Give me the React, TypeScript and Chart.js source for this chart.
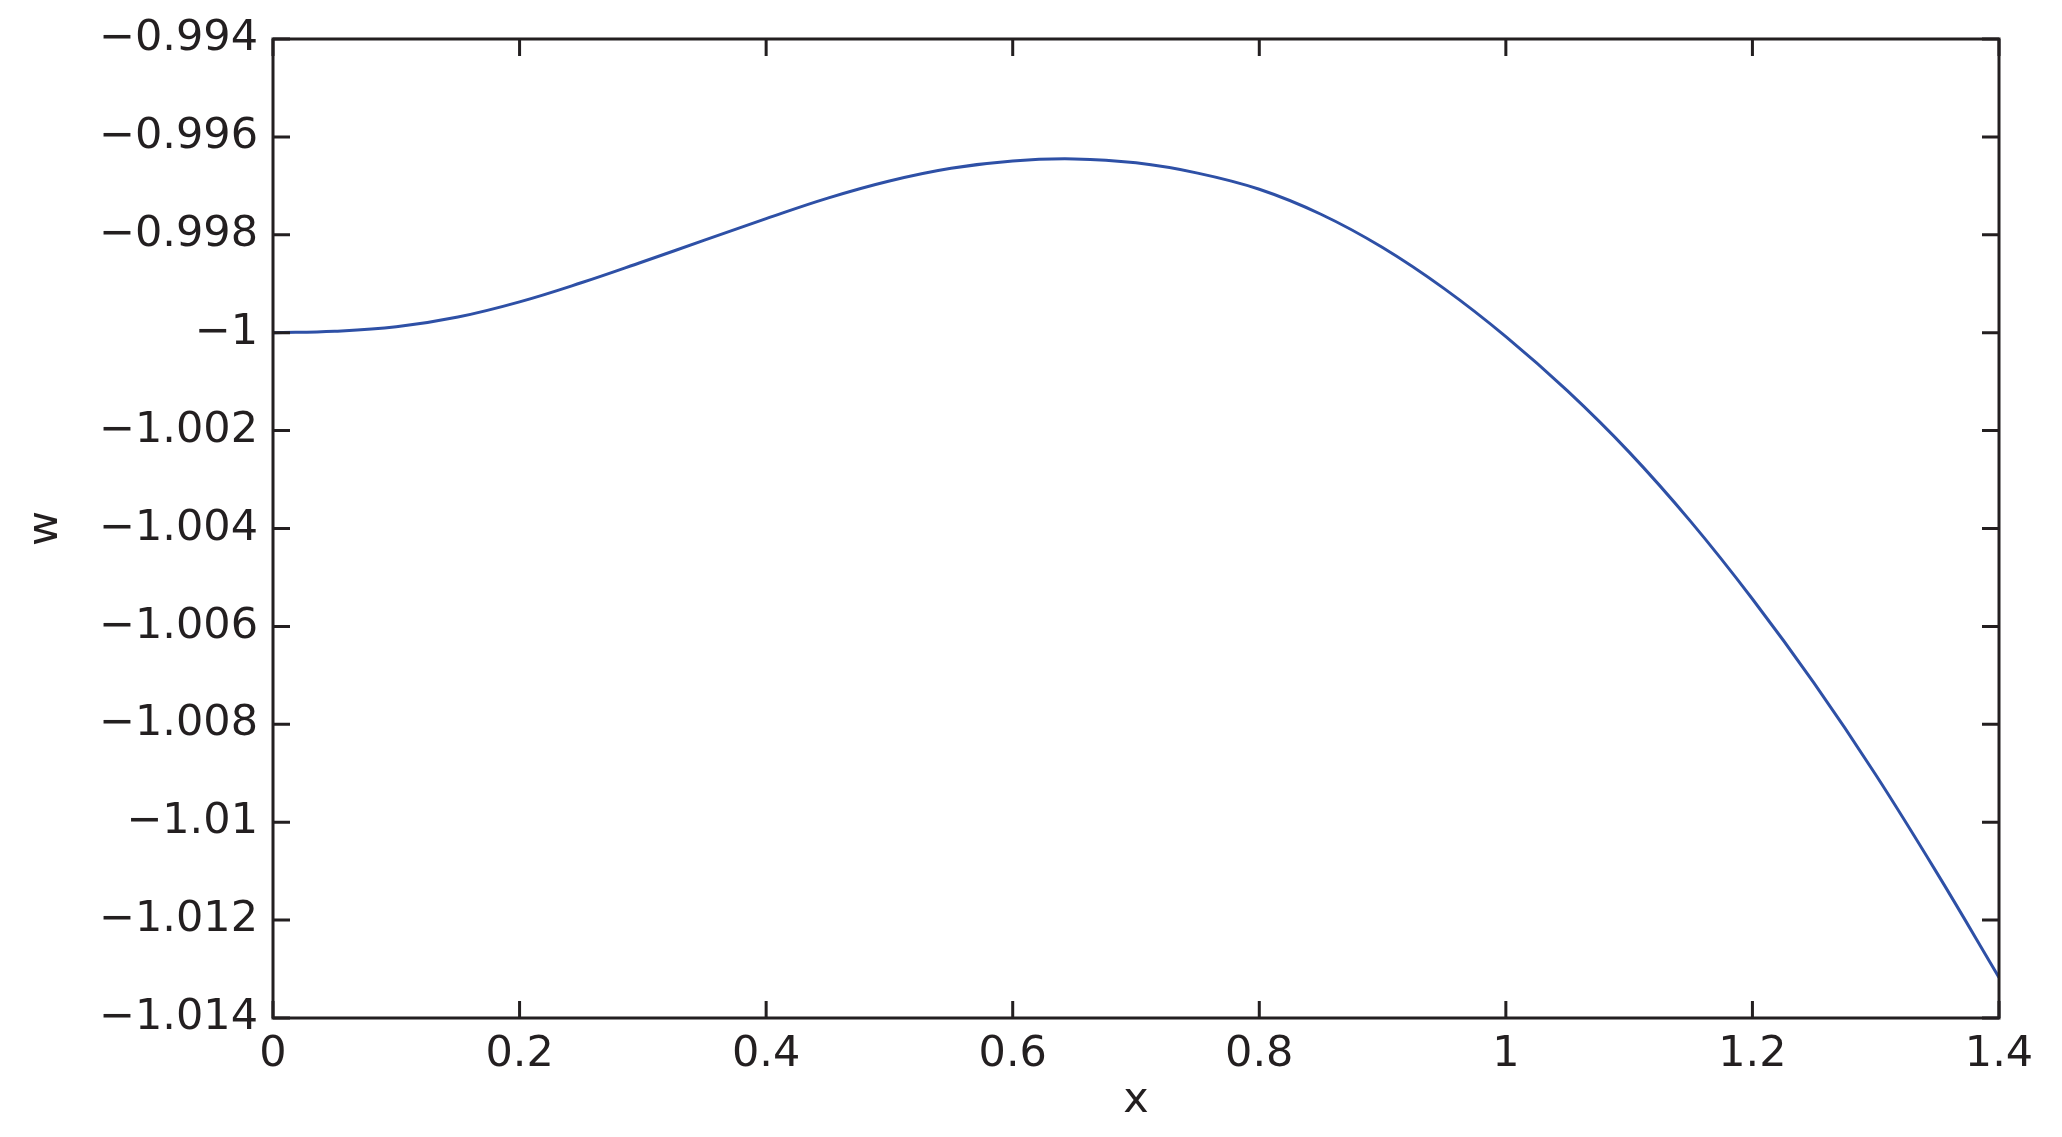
import React, { useEffect, useRef } from "react";
import { Chart, registerables } from "chart.js";

Chart.register(...registerables);

// x positions of the samples and the read-off w values
const xValues = [
  0, 0.05, 0.1, 0.15, 0.2, 0.25, 0.3, 0.35, 0.4, 0.45, 0.5, 0.55, 0.6, 0.65, 0.7,
  0.75, 0.8, 0.85, 0.9, 0.95, 1.0, 1.05, 1.1, 1.15, 1.2, 1.25, 1.3, 1.35, 1.4,
];
const wValues = [
  -1.0, -0.99997, -0.99988, -0.99968, -0.99937, -0.99898, -0.99855, -0.99811,
  -0.99767, -0.99725, -0.9969, -0.99664, -0.99649, -0.99645, -0.99653, -0.99674,
  -0.99707, -0.99758, -0.99826, -0.9991, -1.00008, -1.00119, -1.00244, -1.00386,
  -1.00544, -1.00716, -1.00903, -1.01105, -1.01317,
];

const xTicks = [0, 0.2, 0.4, 0.6, 0.8, 1, 1.2, 1.4];
const yTicks = [
  -1.014, -1.012, -1.01, -1.008, -1.006, -1.004, -1.002, -1, -0.998, -0.996, -0.994,
];

const ink = "#231f20";
const lineBlue = "#2e50a6";
const fontFamily = "'DejaVu Sans', sans-serif";

const fmt = (v: number) => {
  const s = String(Number(v.toFixed(3)));
  return s.startsWith("-") ? "\u2212" + s.slice(1) : s;
};

// MATLAB-style box with inward ticks on all four sides
const boxPlugin = {
  id: "matlabBox",
  afterDraw(chart: any) {
    const { ctx, chartArea, scales } = chart;
    const { left, right, top, bottom } = chartArea;
    const len = 17;
    ctx.save();
    ctx.strokeStyle = ink;
    ctx.lineWidth = 3;
    ctx.beginPath();
    xTicks.forEach((v) => {
      const px = scales.x.getPixelForValue(v);
      ctx.moveTo(px, bottom);
      ctx.lineTo(px, bottom - len);
      ctx.moveTo(px, top);
      ctx.lineTo(px, top + len);
    });
    yTicks.forEach((v) => {
      const py = scales.y.getPixelForValue(v);
      ctx.moveTo(left, py);
      ctx.lineTo(left + len, py);
      ctx.moveTo(right, py);
      ctx.lineTo(right - len, py);
    });
    ctx.stroke();
    ctx.lineJoin = "miter";
    ctx.strokeRect(left, top, right - left, bottom - top);
    ctx.restore();
  },
};

const WChart = () => {
  const canvasRef = useRef<HTMLCanvasElement>(null);

  useEffect(() => {
    if (!canvasRef.current) return;

    const chart = new Chart(canvasRef.current, {
      type: "line",
      data: {
        datasets: [
          {
            label: "w",
            data: xValues.map((x, i) => ({ x, y: wValues[i] })),
            borderColor: lineBlue,
            borderWidth: 3,
            pointRadius: 0,
            fill: false,
            tension: 0.4,
          },
        ],
      },
      options: {
        animation: false,
        responsive: true,
        maintainAspectRatio: false,
        layout: { padding: { left: 0, top: 31, right: 55, bottom: 0 } },
        plugins: {
          legend: { display: false },
          tooltip: { enabled: false },
        },
        scales: {
          x: {
            type: "linear",
            min: 0,
            max: 1.4,
            border: { display: false },
            grid: { display: false, drawTicks: false },
            afterBuildTicks: (scale: any) => {
              scale.ticks = xTicks.map((value) => ({ value }));
            },
            afterFit: (scale: any) => {
              scale.height = 111;
              scale.paddingLeft = 0;
              scale.paddingRight = 0;
            },
            ticks: {
              color: ink,
              padding: 11,
              maxRotation: 0,
              autoSkip: false,
              font: { family: fontFamily, size: 43 },
              callback: (v: any) => fmt(Number(v)),
            },
            title: {
              display: true,
              text: "x",
              color: ink,
              padding: { top: 0, bottom: 2 },
              font: { family: fontFamily, size: 43 },
            },
          },
          y: {
            type: "linear",
            min: -1.014,
            max: -0.994,
            border: { display: false },
            grid: { display: false, drawTicks: false },
            afterBuildTicks: (scale: any) => {
              scale.ticks = yTicks.map((value) => ({ value }));
            },
            afterFit: (scale: any) => {
              scale.width = 265;
              scale.paddingTop = 0;
              scale.paddingBottom = 0;
            },
            ticks: {
              color: ink,
              padding: 15,
              autoSkip: false,
              font: { family: fontFamily, size: 43 },
              callback: (v: any) => fmt(Number(v)),
            },
            title: {
              display: true,
              text: "w",
              color: ink,
              padding: { top: 12, bottom: 0 },
              font: { family: fontFamily, size: 43 },
            },
          },
        },
      },
      plugins: [boxPlugin],
    } as any);

    return () => chart.destroy();
  }, []);

  return (
    <div style={{ position: "relative", width: 2046, height: 1121 }}>
      <canvas ref={canvasRef} />
    </div>
  );
};

export default function App() {
  return <WChart />;
}
